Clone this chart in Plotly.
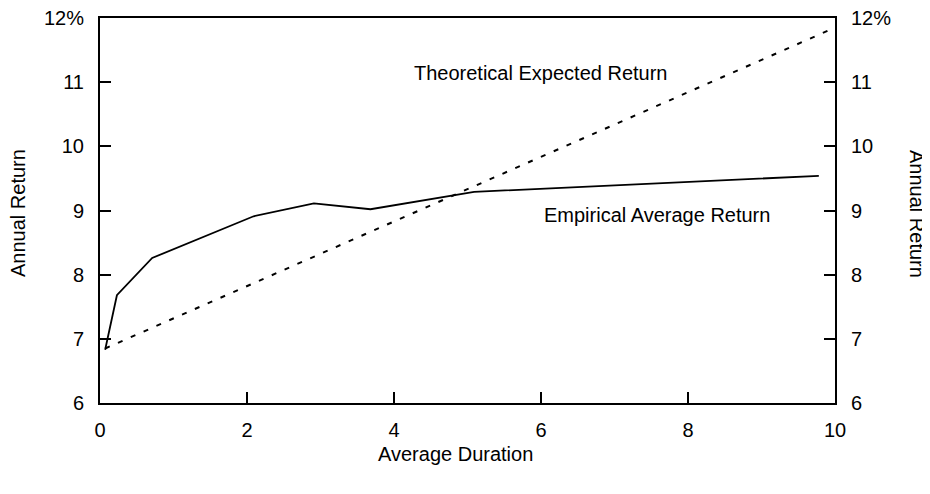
import plotly.graph_objects as go

# Empirical average return by average duration
dur_empirico = [0.07, 0.23, 0.71, 2.09, 2.91, 3.68, 5.09, 7.22, 9.78]
ret_empirico = [6.83, 7.68, 8.26, 8.91, 9.11, 9.02, 9.29, 9.40, 9.54]

# Theoretical expected return
dur_teorico = [0.07, 3.27, 9.94]
ret_teorico = [6.85, 8.46, 11.82]

ticks_y = [6, 7, 8, 9, 10, 11, 12]
etiquetas_y = ["6", "7", "8", "9", "10", "11", "12%"]
ticks_x = [0, 2, 4, 6, 8, 10]

FUENTE = dict(family="Liberation Sans, Arial, sans-serif", size=20, color="black")

# page body adds 8px, so the plot area on screen (100..835, 18..403)
# sits at these figure pixels
DESP = 8
IZQ, DER, ARR, ABA = 100 - DESP, 835 - DESP, 18 - DESP, 403 - DESP


def px_a_paper(px, py):
    # screen pixels -> paper coords
    px, py = px - DESP, py - DESP
    return (px - IZQ) / (DER - IZQ), (ABA - py) / (ABA - ARR)


fig = go.Figure()

fig.add_trace(
    go.Scatter(
        x=dur_empirico,
        y=ret_empirico,
        mode="lines",
        line=dict(color="black", width=1.8),
        showlegend=False,
    )
)

fig.add_trace(
    go.Scatter(
        x=dur_teorico,
        y=ret_teorico,
        mode="lines",
        line=dict(color="black", width=2, dash="5px,9px"),
        showlegend=False,
    )
)

# invisible trace so the right axis is drawn
fig.add_trace(
    go.Scatter(
        x=dur_teorico,
        y=ret_teorico,
        mode="lines",
        line=dict(width=0),
        opacity=0,
        yaxis="y2",
        showlegend=False,
        hoverinfo="skip",
    )
)

eje_y = dict(
    range=[6, 12],
    tickvals=ticks_y,
    ticktext=etiquetas_y,
    ticks="inside",
    ticklen=11,
    tickwidth=1.5,
    tickcolor="black",
    ticklabelstandoff=10,
    ticklabeloverflow="allow",
    showline=True,
    linecolor="black",
    linewidth=2,
    showgrid=False,
    zeroline=False,
    automargin=False,
    tickfont=FUENTE,
)

x_izq, y_izq = px_a_paper(18, 213)
x_der, y_der = px_a_paper(917, 214)
x_tit, y_tit = px_a_paper(455, 454)

fig.update_layout(
    width=930,
    height=494,
    plot_bgcolor="white",
    paper_bgcolor="white",
    font=FUENTE,
    margin=dict(l=IZQ, r=930 - DER, t=ARR, b=494 - ABA),
    xaxis=dict(
        range=[0, 10],
        tickvals=ticks_x,
        ticks="inside",
        ticklen=11,
        tickwidth=1.5,
        tickcolor="black",
        ticklabelstandoff=8,
        ticklabeloverflow="allow",
        showline=True,
        mirror=True,
        linecolor="black",
        linewidth=2,
        showgrid=False,
        zeroline=False,
        automargin=False,
        tickfont=FUENTE,
    ),
    yaxis=eje_y,
    yaxis2=dict(**eje_y, overlaying="y", side="right"),
    annotations=[
        dict(
            x=5.99, y=11.14, xref="x", yref="y",
            text="Theoretical Expected Return",
            showarrow=False, font=FUENTE,
            xanchor="center", yanchor="middle",
        ),
        dict(
            x=7.58, y=8.93, xref="x", yref="y",
            text="Empirical Average Return",
            showarrow=False, font=FUENTE,
            xanchor="center", yanchor="middle",
        ),
        dict(
            x=x_izq, y=y_izq, xref="paper", yref="paper",
            text="Annual Return", textangle=-90,
            showarrow=False, font=FUENTE,
            xanchor="center", yanchor="middle",
        ),
        dict(
            x=x_der, y=y_der, xref="paper", yref="paper",
            text="Annual Return", textangle=90,
            showarrow=False, font=FUENTE,
            xanchor="center", yanchor="middle",
        ),
        dict(
            x=x_tit, y=y_tit, xref="paper", yref="paper",
            text="Average Duration",
            showarrow=False, font=FUENTE,
            xanchor="center", yanchor="middle",
        ),
    ],
)

fig.write_html("out.html")
